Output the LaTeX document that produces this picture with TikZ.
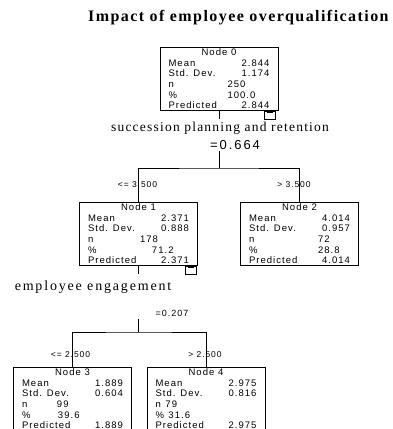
\documentclass[tikz,border=0pt]{standalone}
\usepackage{fontspec}
\setmainfont{Liberation Serif}
\newfontfamily\spssfont[LetterSpace=11]{Liberation Sans}
\newfontfamily\headfont{Liberation Serif}
\usepackage{tikz}
\usetikzlibrary{positioning}

% one box of the tree: title, mean, sd, n, %, predicted, offset of n, offset of %
\newcommand{\treestats}[8]{%
  #1\\
  \makebox[101pt][l]{Mean\hfill #2}\\
  \makebox[101pt][l]{Std. Dev.\hfill #3}\\
  \makebox[101pt][l]{\makebox[#7][l]{n}#4}\\
  \makebox[101pt][l]{\makebox[#8][l]{\%}#5}\\
  \makebox[101pt][l]{Predicted\hfill #6}}

\tikzset{
  treebox/.style={draw, line width=0.7pt, anchor=north, align=center,
    inner xsep=8.5pt, inner ysep=1.5pt,
    font=\spssfont\fontsize{9.5}{10.6}\selectfont},
  minusbox/.style={draw, line width=0.7pt, anchor=north east,
    minimum width=11pt, minimum height=8pt, inner sep=0pt},
  splitlabel/.style={font=\spssfont\fontsize{8.5}{9}\selectfont, inner sep=1pt},
  headlabel/.style={font=\headfont\fontsize{13.5}{14}\selectfont, inner sep=0pt},
  treeline/.style={line width=0.7pt},
}

\begin{document}
\begin{tikzpicture}[x=1pt, y=-1pt]
    \useasboundingbox (0,0) rectangle (392,429);

    % title
    \node[font=\headfont\bfseries\fontsize{16}{17}\selectfont\addfontfeatures{LetterSpace=9},
      anchor=west, inner sep=0pt] (title) at (88,18) {Impact of employee overqualification};

    % root
    \node[treebox] (n0) at (219,47) {\treestats{Node 0}{2.844}{1.174}{250}{100.0}{2.844}{59pt}{59pt}};
    \node[minusbox] (m0) at ([xshift=-3pt]n0.south east) {};
    \draw[treeline] ([xshift=-3pt, yshift=-2pt]m0.north) -- ++(6,0);
    \coordinate (r0) at ([yshift=-8pt]n0.south);
    \draw[treeline] (n0.south) -- (r0);

    % first split
    \node[headlabel, font=\headfont\fontsize{13.5}{14}\selectfont\addfontfeatures{LetterSpace=9}]
      (var1) at (220,128) {succession planning and retention};
    \node[splitlabel, font=\spssfont\fontsize{13}{14}\selectfont\addfontfeatures{LetterSpace=15}]
      (p1) at (235,145) {=0.664};
    \coordinate (s1) at (219,168);
    \draw[treeline] (219,151) -- (s1);

    \node[treebox] (n1) at (138.5,202) {\treestats{Node 1}{2.371}{0.888}{178}{71.2}{2.371}{52pt}{64pt}};
    \node[treebox] (n2) at (299.5,202) {\treestats{Node 2}{4.014}{0.957}{72}{28.8}{4.014}{69pt}{69pt}};
    \draw[treeline] (n1.north) |- (s1) -| (n2.north);
    \node[splitlabel] (c1) at (137.5,185) {<= 3.500};
    \node[splitlabel] (c2) at (294,185) {> 3.500};

    \node[minusbox] (m1) at ([xshift=-1pt]n1.south east) {};
    \draw[treeline] ([xshift=-3pt, yshift=-2pt]m1.north) -- ++(6,0);
    \coordinate (r1) at ([yshift=-8pt]n1.south);
    \draw[treeline] (n1.south) -- (r1);

    % second split
    \node[headlabel, font=\headfont\fontsize{14}{15}\selectfont\addfontfeatures{LetterSpace=13}]
      (var2) at (93,287) {employee engagement};
    \node[splitlabel, font=\spssfont\fontsize{9}{10}\selectfont]
      (p2) at (172,313) {=0.207};
    \coordinate (s2) at (138,332);
    \draw[treeline] (138,319) -- (s2);

    \node[treebox] (n3) at (72.5,367) {\treestats{Node 3}{1.889}{0.604}{99}{39.6}{1.889}{35pt}{36pt}};
    \node[treebox] (n4) at (206,367) {\treestats{Node 4}{2.975}{0.816}{79}{31.6}{2.975}{10pt}{13pt}};
    \draw[treeline] (n3.north) |- (s2) -| (n4.north);
    \node[splitlabel] (c3) at (70.5,355) {<= 2.500};
    \node[splitlabel] (c4) at (205,355) {> 2.500};
\end{tikzpicture}
\end{document}
